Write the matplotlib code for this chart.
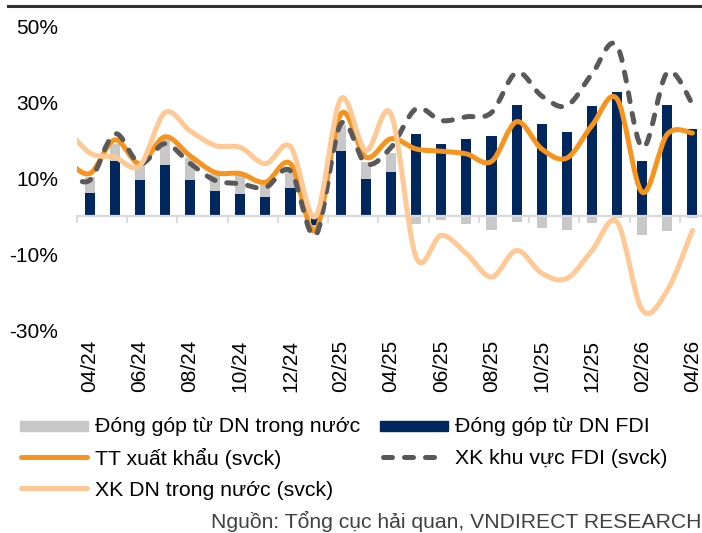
import numpy as np
import matplotlib
matplotlib.use("Agg")
from matplotlib import pyplot as plt
from matplotlib.path import Path
from matplotlib.patches import PathPatch, Rectangle
from matplotlib.lines import Line2D

plt.rcParams['font.family'] = ['Liberation Sans', 'DejaVu Sans']

# months for the lines (03/24 sits just left of the plot and gets clipped)
months = ['03/24', '04/24', '05/24', '06/24', '07/24', '08/24', '09/24', '10/24',
          '11/24', '12/24', '01/25', '02/25', '03/25', '04/25', '05/25', '06/25',
          '07/25', '08/25', '09/25', '10/25', '11/25', '12/25', '01/26', '02/26',
          '03/26', '04/26']
bar_months = months[1:]

# contributions to export growth (pp)
domestic_contrib = [4.0, 4.5, 4.3, 6.8, 6.0, 4.6, 4.8, 3.2, 4.4, -1.0, 6.8, 4.3, 5.0,
                    -2.1, -0.9, -1.9, -3.5, -1.5, -3.2, -3.5, -1.7, -0.3, -4.9, -3.9, -0.5]
fdi_contrib = [6.3, 14.7, 9.7, 13.6, 9.5, 6.6, 6.0, 5.0, 7.6, -2.2, 17.2, 10.0, 11.8,
               21.8, 19.2, 20.5, 21.3, 29.5, 24.4, 22.4, 29.2, 32.9, 14.5, 29.5, 23.2]

# yoy growth (%)
total_growth = [15.5, 11.3, 20.2, 13.9, 21.0, 16.0, 11.6, 11.3, 9.0, 13.9, -3.7, 27.0,
                15.6, 20.5, 17.8, 17.2, 16.5, 14.5, 25.0, 17.8, 15.4, 24.0, 31.0, 6.4,
                21.7, 22.0]
fdi_growth = [12.0, 9.5, 21.8, 13.9, 19.2, 14.0, 9.5, 8.6, 7.6, 12.0, -5.0, 24.4,
              13.9, 18.2, 28.4, 25.3, 26.3, 27.4, 38.0, 31.8, 29.2, 37.6, 45.0, 18.2,
              38.0, 29.7]
domestic_growth = [24.0, 16.8, 15.6, 13.4, 27.4, 22.6, 18.7, 18.2, 13.9, 18.4, 0.0, 31.0,
                   17.4, 27.0, -10.8, -5.0, -9.8, -16.0, -9.0, -15.0, -16.4, -9.0, -1.5,
                   -24.7, -19.5, -3.7]

NAVY = '#00285e'
GREY = '#c8c8c8'
ORANGE = '#f7941d'
LIGHT = '#ffc996'
DASH = '#595959'


def smooth_path(xs, ys):
    # excel-like smoothed line as cubic bezier segments
    pts = np.column_stack([xs, ys]).astype(float)
    n = len(pts)
    verts = [pts[0]]
    codes = [Path.MOVETO]
    for i in range(n - 1):
        p0 = pts[i - 1] if i > 0 else pts[i]
        p1, p2 = pts[i], pts[i + 1]
        p3 = pts[i + 2] if i + 2 < n else pts[i + 1]
        verts += [p1 + (p2 - p0) / 6, p2 - (p3 - p1) / 6, p2]
        codes += [Path.CURVE4] * 3
    return Path(verts, codes)


W, H = 702, 533
fig = plt.figure(figsize=(W / 100, H / 100), dpi=100)
ax = fig.add_axes([77 / W, 1 - 330 / H, 628 / W, 303 / H])

bar_x = np.arange(len(bar_months))
line_x = np.arange(len(months)) - 1

fdi = np.array(fdi_contrib)
dom = np.array(domestic_contrib)
dom_bottom = np.where(np.sign(dom) == np.sign(fdi), fdi, 0)
ax.bar(bar_x, fdi, width=0.4, color=NAVY, zorder=2)
ax.bar(bar_x, dom, width=0.4, bottom=dom_bottom, color=GREY, zorder=2)

lw = 3.6
dash = (0, (1.8, 2.4))
ax.add_patch(PathPatch(smooth_path(line_x, total_growth), fill=False,
                       edgecolor=ORANGE, lw=lw, capstyle='round', zorder=3))
ax.add_patch(PathPatch(smooth_path(line_x, fdi_growth), fill=False,
                       edgecolor=DASH, lw=lw, capstyle='round',
                       linestyle=dash, zorder=4))
ax.add_patch(PathPatch(smooth_path(line_x, domestic_growth), fill=False,
                       edgecolor=LIGHT, lw=lw, capstyle='round', zorder=5))

ax.set_xlim(-0.5, 24.5)
ax.set_ylim(-30, 50)
ax.set_yticks([-30, -10, 10, 30, 50], ['-30%', '-10%', '10%', '30%', '50%'])
ax.tick_params(axis='y', length=0, pad=13.5, labelsize=15, labelcolor='#000000')

for s in ['top', 'right', 'left']:
    ax.spines[s].set_visible(False)
ax.spines['bottom'].set_position(('data', 0))
ax.spines['bottom'].set_color('#d9d9d9')
ax.spines['bottom'].set_linewidth(1.6)
ax.set_xticks(np.arange(-0.5, 24, 2))
ax.tick_params(axis='x', length=5, width=1.3, color='#d9d9d9', labelbottom=False)

lab = ax.secondary_xaxis('bottom')
lab.set_xticks(bar_x[::2], bar_months[::2], rotation=90)
lab.tick_params(length=0, pad=7, labelsize=15)
lab.spines['bottom'].set_visible(False)

# top rule
fig.add_artist(Line2D([8 / W, 1], [1 - 6 / H] * 2, color='#333333', lw=2.2))


def fy(y):
    return 1 - y / H


# legend
fs = 15.3
fig.add_artist(Rectangle((20 / W, fy(431)), 68 / W, 10 / H, color=GREY,
                         transform=fig.transFigure))
fig.text(95 / W, fy(427), 'Đóng góp từ DN trong nước', fontsize=fs, va='center')
fig.add_artist(Rectangle((380 / W, fy(431)), 68 / W, 10 / H, color=NAVY,
                         transform=fig.transFigure))
fig.text(455 / W, fy(427), 'Đóng góp từ DN FDI', fontsize=fs, va='center')

fig.add_artist(Line2D([21 / W, 87 / W], [fy(457)] * 2, color=ORANGE, lw=lw,
                      solid_capstyle='round'))
fig.text(95 / W, fy(458), 'TT xuất khẩu (svck)', fontsize=fs, va='center')
fig.add_artist(Line2D([383 / W, 445 / W], [fy(457)] * 2, color=DASH, lw=lw,
                      dash_capstyle='round', linestyle=dash))
fig.text(455 / W, fy(458), 'XK khu vực FDI (svck)', fontsize=fs, va='center')

fig.add_artist(Line2D([21 / W, 87 / W], [fy(488)] * 2, color=LIGHT, lw=lw,
                      solid_capstyle='round'))
fig.text(95 / W, fy(490), 'XK DN trong nước (svck)', fontsize=fs, va='center')

fig.text(211 / W, fy(521), 'Nguồn: Tổng cục hải quan, VNDIRECT RESEARCH',
         fontsize=15.2, va='center', color='#404040')

fig.savefig('out.png', dpi=100)
